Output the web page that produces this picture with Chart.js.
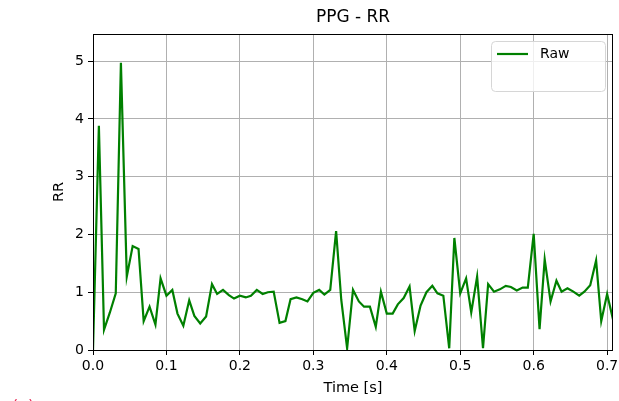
<!DOCTYPE html>
<html>
<head>
<meta charset="utf-8">
<script src="https://cdn.jsdelivr.net/npm/chart.js@4/dist/chart.umd.min.js"></script>
<style>
  html, body { margin: 0; padding: 0; background: #fff; overflow: hidden; }
  #wrap { position: relative; width: 619px; height: 401px; }
  #c { position: absolute; left: 0; top: 0; }
  #tag { position: absolute; left: 12px; top: 396px; font: 16px "DejaVu Sans", sans-serif; color: #e8305a; }
</style>
</head>
<body>
<div id="wrap">
  <canvas id="c" width="619" height="401"></canvas>
  <div id="tag">(a)</div>
</div>
<script>
// Sample times (s), one sample every 1/130 s
const times = [
  0.000, 0.008, 0.015, 0.023, 0.031, 0.038, 0.046, 0.054, 0.062, 0.069,
  0.077, 0.085, 0.092, 0.100, 0.108, 0.115, 0.123, 0.131, 0.138, 0.146,
  0.154, 0.162, 0.169, 0.177, 0.185, 0.192, 0.200, 0.208, 0.215, 0.223,
  0.231, 0.238, 0.246, 0.254, 0.262, 0.269, 0.277, 0.285, 0.292, 0.300,
  0.308, 0.315, 0.323, 0.331, 0.338, 0.346, 0.354, 0.362, 0.369, 0.377,
  0.385, 0.392, 0.400, 0.408, 0.415, 0.423, 0.431, 0.438, 0.446, 0.454,
  0.462, 0.469, 0.477, 0.485, 0.492, 0.500, 0.508, 0.515, 0.523, 0.531,
  0.538, 0.546, 0.554, 0.562, 0.569, 0.577, 0.585, 0.592, 0.600, 0.608,
  0.615, 0.623, 0.631, 0.638, 0.646, 0.654, 0.662, 0.669, 0.677, 0.685,
  0.692, 0.700, 0.708
];

// Raw RR series
const rawRR = [
  0.00, 3.88, 0.35, 0.65, 0.98, 4.97, 1.27, 1.80, 1.75, 0.50,
  0.75, 0.44, 1.24, 0.94, 1.04, 0.63, 0.42, 0.86, 0.59, 0.46,
  0.58, 1.14, 0.97, 1.04, 0.95, 0.89, 0.94, 0.91, 0.94, 1.04,
  0.97, 1.00, 1.01, 0.47, 0.50, 0.88, 0.91, 0.88, 0.84, 0.99,
  1.04, 0.96, 1.04, 2.06, 0.87, 0.03, 1.04, 0.84, 0.75, 0.75,
  0.40, 1.01, 0.63, 0.63, 0.79, 0.90, 1.10, 0.33, 0.77, 1.00,
  1.11, 0.98, 0.94, 0.03, 1.94, 0.98, 1.24, 0.65, 1.27, 0.03,
  1.14, 1.01, 1.05, 1.11, 1.09, 1.03, 1.08, 1.08, 2.01, 0.36,
  1.57, 0.84, 1.20, 1.01, 1.07, 1.01, 0.94, 1.01, 1.12, 1.55,
  0.50, 0.97, 0.53
];

const xTicks = [0.0, 0.1, 0.2, 0.3, 0.4, 0.5, 0.6, 0.7];
const yTicks = [0, 1, 2, 3, 4, 5];

const titleText = 'PPG - RR';
const seriesLabel = 'Raw';
const xLabel = 'Time [s]';
const yLabel = 'RR';

const FONT = '"DejaVu Sans", sans-serif';
const GREEN = '#008000';

const points = times.map((t, i) => ({ x: t, y: rawRR[i] }));

// Frame on all four sides, title and the legend box
const decor = {
  id: 'decor',
  afterDraw(chart) {
    const { ctx, chartArea: a } = chart;
    ctx.save();
    ctx.strokeStyle = '#000';
    ctx.lineWidth = 1;
    ctx.strokeRect(Math.round(a.left) + 0.5, Math.round(a.top) + 0.5,
                   Math.round(a.right - a.left) - 1, Math.round(a.bottom - a.top));

    ctx.fillStyle = '#000';
    ctx.font = '17px ' + FONT;
    ctx.textAlign = 'center';
    ctx.textBaseline = 'middle';
    ctx.fillText(titleText, (a.left + a.right) / 2, 18);

    // legend
    const lx = 491.5, ly = 41.5, lw = 114, lh = 50, r = 4;
    ctx.beginPath();
    ctx.moveTo(lx + r, ly);
    ctx.arcTo(lx + lw, ly, lx + lw, ly + lh, r);
    ctx.arcTo(lx + lw, ly + lh, lx, ly + lh, r);
    ctx.arcTo(lx, ly + lh, lx, ly, r);
    ctx.arcTo(lx, ly, lx + lw, ly, r);
    ctx.closePath();
    ctx.fillStyle = 'rgba(255,255,255,0.8)';
    ctx.fill();
    ctx.strokeStyle = '#d6d6d6';
    ctx.stroke();

    const ds = chart.data.datasets[0];
    ctx.strokeStyle = ds.borderColor;
    ctx.lineWidth = ds.borderWidth;
    ctx.beginPath();
    ctx.moveTo(497, 54);
    ctx.lineTo(528, 54);
    ctx.stroke();
    ctx.fillStyle = '#000';
    ctx.font = '14px ' + FONT;
    ctx.textAlign = 'left';
    ctx.fillText(ds.label, 540, 54);
    ctx.restore();
  }
};

new Chart(document.getElementById('c'), {
  type: 'line',
  data: {
    datasets: [{
      label: seriesLabel,
      data: points,
      borderColor: GREEN,
      backgroundColor: GREEN,
      borderWidth: 2.2,
      pointRadius: 0,
      tension: 0,
      fill: false
    }]
  },
  options: {
    responsive: false,
    animation: false,
    devicePixelRatio: 1,
    layout: { padding: { top: 34, right: 6, left: 0, bottom: 0 } },
    plugins: {
      legend: { display: false },
      title: { display: false },
      tooltip: { enabled: false }
    },
    scales: {
      x: {
        type: 'linear',
        min: times[0],
        max: times[times.length - 1],
        afterBuildTicks(s) { s.ticks = xTicks.map(v => ({ value: v })); },
        afterFit(s) { s.height = 51; s.paddingLeft = 0; s.paddingRight = 0; },
        ticks: {
          color: '#000',
          font: { family: FONT, size: 14 },
          padding: 3,
          maxRotation: 0,
          autoSkip: false,
          callback: v => v.toFixed(1)
        },
        grid: { color: '#b0b0b0', lineWidth: 1, tickColor: '#000', tickLength: 5, drawTicks: true },
        border: { display: false },
        title: {
          display: true, text: xLabel, color: '#000',
          font: { family: FONT, size: 14.5 },
          padding: { top: 0, bottom: 4 }
        }
      },
      y: {
        type: 'linear',
        min: 0,
        max: 5.47,
        afterBuildTicks(s) { s.ticks = yTicks.map(v => ({ value: v })); },
        afterFit(s) { s.width = 93; s.paddingTop = 0; s.paddingBottom = 0; },
        ticks: {
          color: '#000',
          font: { family: FONT, size: 14 },
          padding: 4,
          autoSkip: false,
          callback: v => String(v)
        },
        grid: { color: '#b0b0b0', lineWidth: 1, tickColor: '#000', tickLength: 5, drawTicks: true },
        border: { display: false },
        title: {
          display: true, text: yLabel, color: '#000',
          font: { family: FONT, size: 14.5 },
          padding: { top: 51, bottom: 0 }
        }
      }
    }
  },
  plugins: [decor]
});
</script>
</body>
</html>
